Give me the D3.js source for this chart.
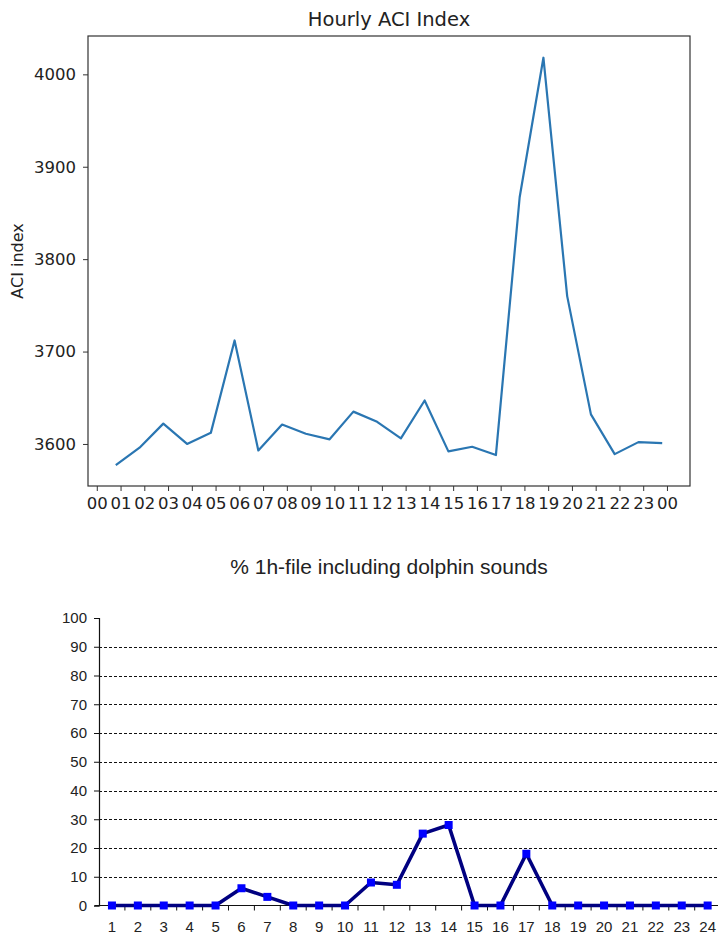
<!DOCTYPE html>
<html>
<head>
<meta charset="utf-8">
<script src="https://cdn.jsdelivr.net/npm/d3@7"></script>
<style>
  body { margin: 0; background: #fff; }
  svg { display: block; }
</style>
</head>
<body>
<div id="chart"></div>
<script>
// top chart data: hour of each sample (hours since 00:00) and ACI value
var aciHours = [0.8, 1.8, 2.8, 3.8, 4.8, 5.8, 6.8, 7.8, 8.8, 9.8, 10.8, 11.8,
  12.8, 13.8, 14.8, 15.8, 16.8, 17.8, 18.8, 19.8, 20.8, 21.8, 22.8, 23.8];
var aciValues = [3577, 3596, 3622, 3600, 3612, 3712, 3593, 3621, 3611, 3605, 3635, 3624,
  3606, 3647, 3592, 3597, 3588, 3867, 4018, 3760, 3632, 3589, 3602, 3601];
var aciTickHours = d3.range(0, 25);
var aciTickLabels = ['00', '01', '02', '03', '04', '05', '06', '07', '08', '09', '10', '11',
  '12', '13', '14', '15', '16', '17', '18', '19', '20', '21', '22', '23', '00'];
var aciYTicks = [3600, 3700, 3800, 3900, 4000];

// bottom chart data: hour category and % of files with dolphin sounds
var dolphinHours = ['1', '2', '3', '4', '5', '6', '7', '8', '9', '10', '11', '12',
  '13', '14', '15', '16', '17', '18', '19', '20', '21', '22', '23', '24'];
var dolphinPct = [0, 0, 0, 0, 0, 6, 3, 0, 0, 0, 8, 7.2, 25, 28, 0, 0, 18, 0, 0, 0, 0, 0, 0, 0];
var dolphinYTicks = [0, 10, 20, 30, 40, 50, 60, 70, 80, 90, 100];

var width = 718, height = 936;

var svg = d3.select('#chart').append('svg')
  .attr('width', width)
  .attr('height', height);

// ---------------- top: Hourly ACI Index (matplotlib look) ----------------
var box1 = { left: 88, right: 690, top: 36, bottom: 486 };
var mplFont = 'DejaVu Sans, sans-serif';

var x1 = d3.scaleLinear().domain([-0.37, 24.97]).range([box1.left, box1.right]);
var y1 = d3.scaleLinear().domain([3554.5, 4041.5]).range([box1.bottom, box1.top]);

var g1 = svg.append('g');

g1.append('text')
  .attr('x', (box1.left + box1.right) / 2)
  .attr('y', 26)
  .attr('text-anchor', 'middle')
  .style('font-family', mplFont)
  .style('font-size', '19.5px')
  .attr('fill', '#222')
  .text('Hourly ACI Index');

var xAxis1 = d3.axisBottom(x1)
  .tickValues(aciTickHours)
  .tickSize(5)
  .tickPadding(6)
  .tickFormat(function (d, i) { return aciTickLabels[i]; });

g1.append('g')
  .attr('transform', 'translate(0,' + box1.bottom + ')')
  .call(xAxis1)
  .call(function (g) {
    g.select('.domain').remove();
    g.selectAll('line').attr('stroke', '#333').attr('stroke-width', 1);
    g.selectAll('text').style('font-family', mplFont).style('font-size', '16.5px')
      .attr('fill', '#222').attr('dy', '0.75em');
  });

var yAxis1 = d3.axisLeft(y1)
  .tickValues(aciYTicks)
  .tickSize(5)
  .tickPadding(7)
  .tickFormat(d3.format('d'));

g1.append('g')
  .attr('transform', 'translate(' + box1.left + ',0)')
  .call(yAxis1)
  .call(function (g) {
    g.select('.domain').remove();
    g.selectAll('line').attr('stroke', '#333').attr('stroke-width', 1);
    g.selectAll('text').style('font-family', mplFont).style('font-size', '16.5px')
      .attr('fill', '#222');
  });

g1.append('text')
  .attr('transform', 'translate(23,' + ((box1.top + box1.bottom) / 2) + ') rotate(-90)')
  .attr('text-anchor', 'middle')
  .style('font-family', mplFont)
  .style('font-size', '16px')
  .attr('fill', '#222')
  .text('ACI index');

var aciLine = d3.line()
  .x(function (d, i) { return x1(aciHours[i]); })
  .y(function (d) { return y1(d); });

g1.append('path')
  .datum(aciValues)
  .attr('d', aciLine)
  .attr('fill', 'none')
  .attr('stroke', '#2a76b2')
  .attr('stroke-width', 2.2)
  .attr('stroke-linejoin', 'round');

// frame
g1.append('rect')
  .attr('x', box1.left)
  .attr('y', box1.top)
  .attr('width', box1.right - box1.left)
  .attr('height', box1.bottom - box1.top)
  .attr('fill', 'none')
  .attr('stroke', '#333')
  .attr('stroke-width', 1.2);

// ---------------- bottom: dolphin sounds (Excel look) ----------------
var box2 = { left: 99, top: 618, bottom: 905.5 };
var xlFont = 'Liberation Sans, Arial, sans-serif';

var x2 = d3.scaleBand().domain(dolphinHours).range([box2.left, box2.left + 24 * 25.9]);
var y2 = d3.scaleLinear().domain([0, 100]).range([box2.bottom, box2.top]);

var g2 = svg.append('g');

g2.append('text')
  .attr('x', 389)
  .attr('y', 574)
  .attr('text-anchor', 'middle')
  .style('font-family', xlFont)
  .style('font-size', '21px')
  .attr('fill', '#222')
  .text('% 1h-file including dolphin sounds');

// dashed gridlines
g2.append('g')
  .selectAll('line')
  .data(dolphinYTicks.filter(function (d) { return d > 0 && d < 100; }))
  .enter()
  .append('line')
  .attr('x1', box2.left)
  .attr('x2', width)
  .attr('y1', function (d) { return Math.round(y2(d)) + 0.5; })
  .attr('y2', function (d) { return Math.round(y2(d)) + 0.5; })
  .attr('stroke', '#111')
  .attr('stroke-width', 1)
  .attr('stroke-dasharray', '3,2');

var yAxis2 = d3.axisLeft(y2)
  .tickValues(dolphinYTicks)
  .tickSize(5)
  .tickPadding(7)
  .tickFormat(d3.format('d'));

g2.append('g')
  .attr('transform', 'translate(' + box2.left + ',0)')
  .call(yAxis2)
  .call(function (g) {
    g.select('.domain').attr('stroke', '#111').attr('stroke-width', 1.2);
    g.selectAll('line').attr('stroke', '#111');
    g.selectAll('text').style('font-family', xlFont).style('font-size', '15px')
      .attr('fill', '#222');
  });

// x axis line and tick marks between categories
g2.append('line')
  .attr('x1', box2.left - 4)
  .attr('x2', width)
  .attr('y1', box2.bottom)
  .attr('y2', box2.bottom)
  .attr('stroke', '#111')
  .attr('stroke-width', 1.2);

g2.append('g')
  .selectAll('line')
  .data(dolphinHours)
  .enter()
  .append('line')
  .attr('x1', function (d) { return x2(d) + x2.bandwidth(); })
  .attr('x2', function (d) { return x2(d) + x2.bandwidth(); })
  .attr('y1', box2.bottom)
  .attr('y2', box2.bottom + 5)
  .attr('stroke', '#111');

g2.append('g')
  .selectAll('text')
  .data(dolphinHours)
  .enter()
  .append('text')
  .attr('x', function (d) { return x2(d) + x2.bandwidth() / 2; })
  .attr('y', 932)
  .attr('text-anchor', 'middle')
  .style('font-family', xlFont)
  .style('font-size', '15px')
  .attr('fill', '#222')
  .text(function (d) { return d; });

var dolphinLine = d3.line()
  .x(function (d, i) { return x2(dolphinHours[i]) + x2.bandwidth() / 2; })
  .y(function (d) { return y2(d); });

g2.append('path')
  .datum(dolphinPct)
  .attr('d', dolphinLine)
  .attr('fill', 'none')
  .attr('stroke', '#000080')
  .attr('stroke-width', 3.6)
  .attr('stroke-linejoin', 'round');

g2.append('g')
  .selectAll('rect')
  .data(dolphinPct)
  .enter()
  .append('rect')
  .attr('x', function (d, i) { return x2(dolphinHours[i]) + x2.bandwidth() / 2 - 4; })
  .attr('y', function (d) { return y2(d) - 4; })
  .attr('width', 8)
  .attr('height', 8)
  .attr('fill', '#0000ff');
</script>
</body>
</html>
